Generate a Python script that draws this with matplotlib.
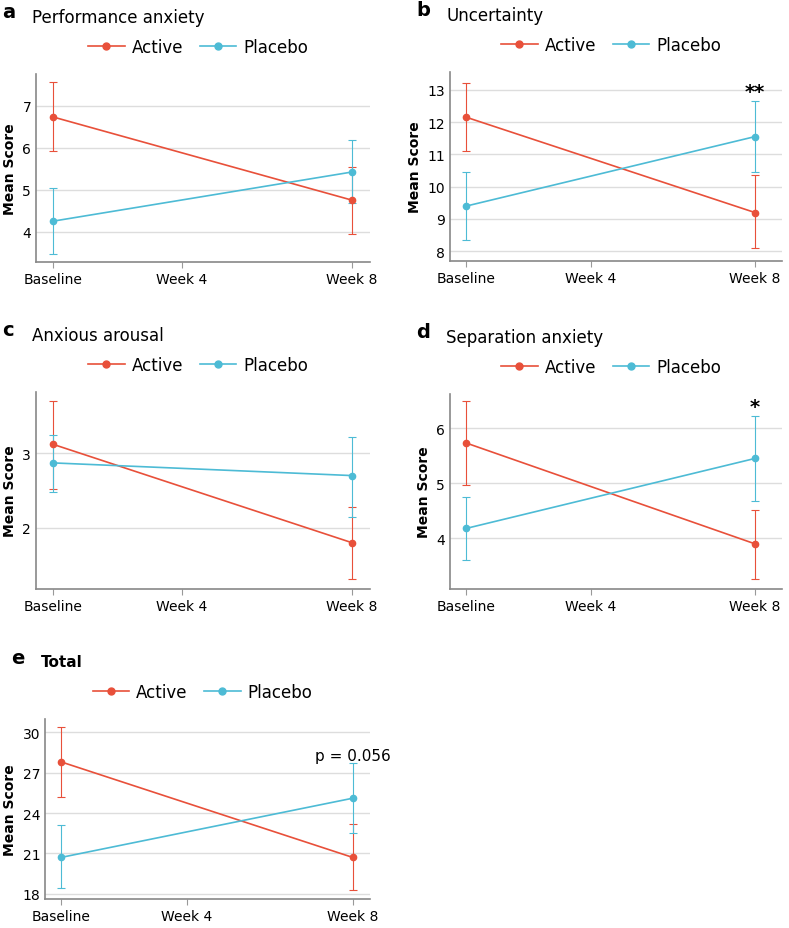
import matplotlib.pyplot as plt
from matplotlib.lines import Line2D

W, H = 789, 929
fig = plt.figure(figsize=(W/100, H/100), dpi=100)
RED = '#E8503A'; BLUE = '#4DBBD5'

xlabels = ['Baseline', 'Week 4', 'Week 8']
panels = [
  dict(letter='a', title='Performance anxiety', bold=False,
       act=[6.73, 4.75], act_up=[7.55, 5.55], act_lo=[5.91, 3.95],
       pla=[4.25, 5.42], pla_up=[5.03, 6.17], pla_lo=[3.46, 4.68],
       yticks=[4, 5, 6, 7], ylim=(3.28, 7.75), box=(36, 75, 370, 263), note=''),
  dict(letter='b', title='Uncertainty', bold=False,
       act=[12.15, 9.2], act_up=[13.2, 10.35], act_lo=[11.1, 8.1],
       pla=[9.4, 11.55], pla_up=[10.45, 12.65], pla_lo=[8.35, 10.45],
       yticks=[8, 9, 10, 11, 12, 13], ylim=(7.7, 13.55), box=(450, 73, 782, 262), note='**'),
  dict(letter='c', title='Anxious arousal', bold=False,
       act=[3.12, 1.8], act_up=[3.7, 2.28], act_lo=[2.52, 1.32],
       pla=[2.87, 2.7], pla_up=[3.25, 3.22], pla_lo=[2.48, 2.15],
       yticks=[2, 3], ylim=(1.18, 3.82), box=(36, 393, 370, 590), note=''),
  dict(letter='d', title='Separation anxiety', bold=False,
       act=[5.73, 3.9], act_up=[6.5, 4.52], act_lo=[4.97, 3.27],
       pla=[4.18, 5.45], pla_up=[4.75, 6.22], pla_lo=[3.6, 4.68],
       yticks=[4, 5, 6], ylim=(3.08, 6.62), box=(450, 395, 782, 590), note='*'),
  dict(letter='e', title='Total', bold=True,
       act=[27.8, 20.7], act_up=[30.4, 23.2], act_lo=[25.2, 18.3],
       pla=[20.7, 25.1], pla_up=[23.1, 27.7], pla_lo=[18.4, 22.5],
       yticks=[18, 21, 24, 27, 30], ylim=(17.6, 31.0), box=(45, 720, 370, 900), note='p = 0.056'),
]
xpos = [0, 8]
tickpos = [0, 3.45, 8]

for p in panels:
    l, t, r, b = p['box']
    ax = fig.add_axes([l/W, 1-b/H, (r-l)/W, (b-t)/H])
    for vals, up, lo, c in [(p['act'], p['act_up'], p['act_lo'], RED),
                            (p['pla'], p['pla_up'], p['pla_lo'], BLUE)]:
        err = [[v-lv for v, lv in zip(vals, lo)], [u-v for v, u in zip(vals, up)]]
        ax.errorbar(xpos, vals, yerr=err, color=c, lw=1.2, marker='o', ms=4.5,
                    capsize=3, elinewidth=0.8, capthick=0.8, zorder=3)
    xr = 8.75 if l > 400 else 8.48
    ax.set_xlim(-0.45, xr)
    ax.set_ylim(*p['ylim'])
    ax.set_yticks(p['yticks'])
    ax.set_xticks(tickpos)
    ax.set_xticklabels(xlabels, fontsize=10)
    ax.tick_params(axis='y', length=0, labelsize=10)
    ax.tick_params(axis='x', length=4, color='#999999')
    ax.grid(axis='y', color='#dddddd', lw=1)
    ax.set_axisbelow(True)
    for s in ['top', 'right']:
        ax.spines[s].set_visible(False)
    for s in ['left', 'bottom']:
        ax.spines[s].set_color('#888888')
        ax.spines[s].set_linewidth(1.2)
    ax.set_ylabel('Mean Score', fontsize=10, fontweight='bold')
    if p['note']:
        top = p['pla_up'][1]
        ax.text(8, top, p['note'], ha='center', va='bottom',
                fontsize=14 if '*' in p['note'] else 11,
                fontweight='bold' if '*' in p['note'] else 'normal')
    fig.text((l-36)/W + 2/W, 1-(t-62)/H, p['letter'], fontsize=14, fontweight='bold', va='center')
    fig.text((l-36+32)/W, 1-(t-57)/H, p['title'], fontsize=12 if not p['bold'] else 11,
             fontweight='bold' if p['bold'] else 'normal', va='center')
    handles = [Line2D([], [], color=RED, marker='o', ms=5, lw=1.2, label='Active'),
               Line2D([], [], color=BLUE, marker='o', ms=5, lw=1.2, label='Placebo')]
    fig.legend(handles=handles, loc='center', ncol=2, frameon=False, fontsize=12,
               bbox_to_anchor=(((l+r)/2 - 5)/W, 1-(t-27)/H), handlelength=2.2,
               columnspacing=1.0, handletextpad=0.4)

fig.savefig('out.png', dpi=100)
